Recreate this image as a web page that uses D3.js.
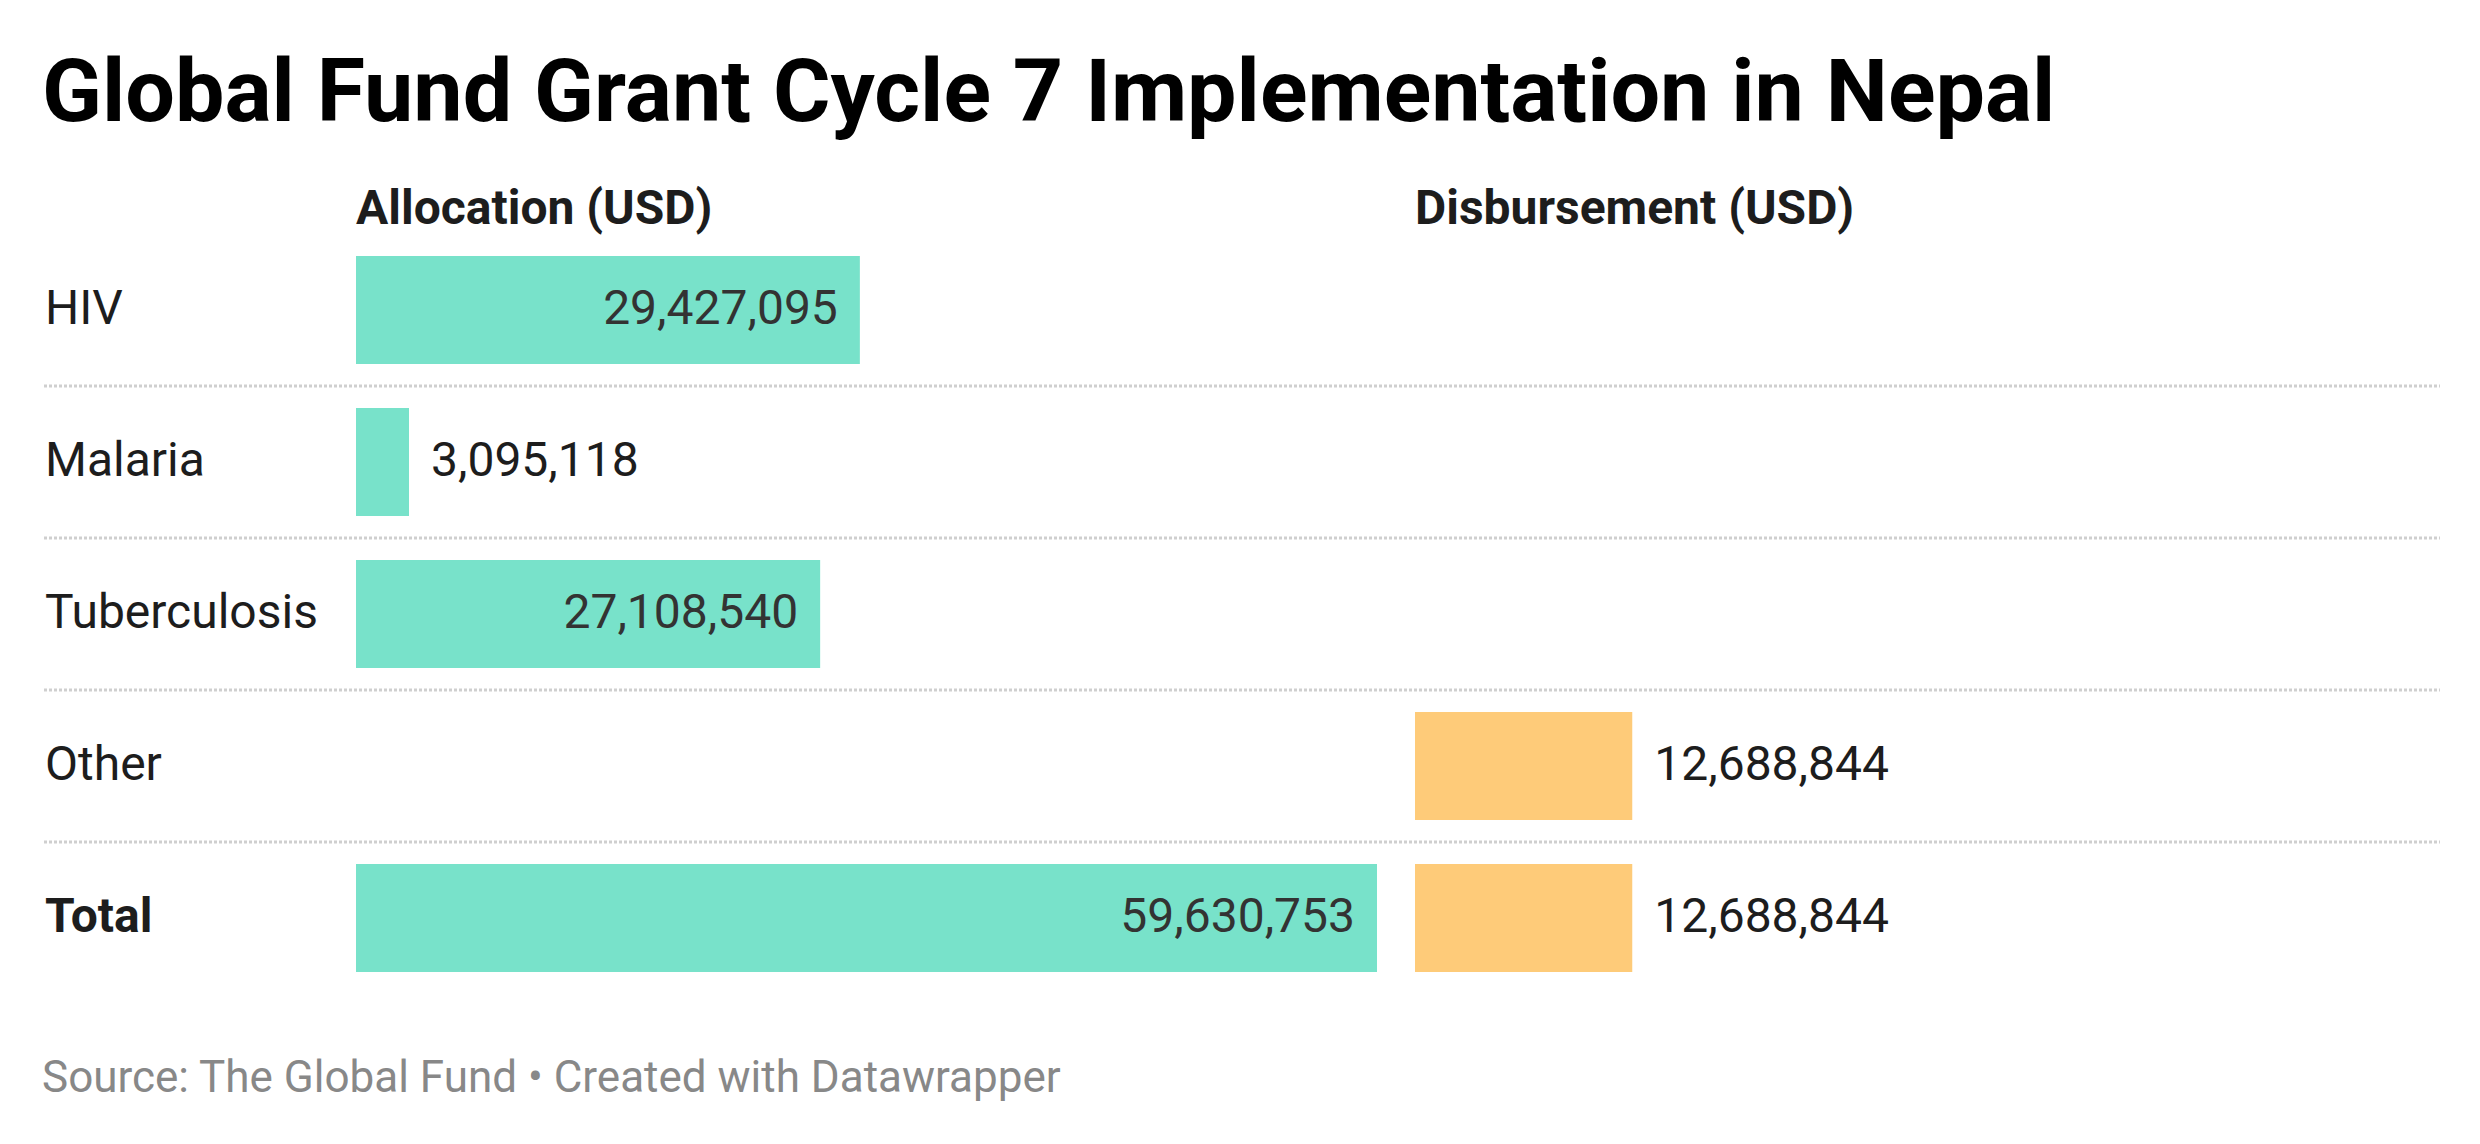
<!DOCTYPE html>
<html>
<head>
<meta charset="utf-8">
<script src="https://cdn.jsdelivr.net/npm/d3@7"></script>
<style>
  html, body { margin: 0; padding: 0; background: #fff; }
  svg { display: block; font-family: Roboto, "Noto Sans", sans-serif; }
</style>
</head>
<body>
<svg id="chart"></svg>
<script>
// data
const categories = ['HIV', 'Malaria', 'Tuberculosis', 'Other', 'Total'];
const allocation = [29427095, 3095118, 27108540, null, 59630753];
const disbursement = [null, null, null, 12688844, 12688844];
const columnTitles = ['Allocation (USD)', 'Disbursement (USD)'];
const titleText = 'Global Fund Grant Cycle 7 Implementation in Nepal';
const sourceText = 'Source: The Global Fund \u2022 Created with Datawrapper';

const width = 2480;
const height = 1144;
const tealColor = '#78e2ca';
const orangeColor = '#fecb79';

const svg = d3.select('#chart').attr('width', width).attr('height', height);

// title
svg.append('text')
  .attr('x', 42)
  .attr('y', 121)
  .text(titleText)
  .style('font-size', '88px')
  .style('font-weight', 700)
  .style('fill', '#000');

// layout
const labelX = 45;
const colStart = [356, 1415];
const colWidth = 1021;
const lineRight = 2440;

const x = d3.scaleLinear()
  .domain([0, d3.max(allocation.concat(disbursement))])
  .range([0, colWidth]);

const y = d3.scaleBand()
  .domain(categories)
  .range([234, 234 + 760])
  .paddingInner(44 / 152)
  .paddingOuter(22 / 152);

// column headers
svg.selectAll('text.colhead')
  .data(columnTitles)
  .enter()
  .append('text')
  .attr('class', 'colhead')
  .attr('x', (_, i) => colStart[i])
  .attr('y', 224)
  .text((d) => d)
  .style('font-size', '48px')
  .style('font-weight', 700)
  .style('fill', '#1d1d1d');

// dotted row separators
svg.selectAll('line.sep')
  .data(categories.slice(0, -1))
  .enter()
  .append('line')
  .attr('class', 'sep')
  .attr('x1', 44)
  .attr('x2', lineRight)
  .attr('y1', (d) => y(d) + y.bandwidth() + 22)
  .attr('y2', (d) => y(d) + y.bandwidth() + 22)
  .style('stroke', '#cfcfcf')
  .style('stroke-width', 3)
  .style('stroke-dasharray', '3,2');

// row labels
svg.selectAll('text.rowlabel')
  .data(categories)
  .enter()
  .append('text')
  .attr('class', 'rowlabel')
  .attr('x', labelX)
  .attr('y', (d) => y(d) + y.bandwidth() / 2)
  .attr('dy', '0.3em')
  .text((d) => d)
  .style('font-size', '48px')
  .style('font-weight', (d) => (d === 'Total' ? 700 : 400))
  .style('fill', '#1d1d1d');

// bars for both columns
const fmt = d3.format(',');
const pad = 22;
const series = [allocation, disbursement];
const colors = [tealColor, orangeColor];

series.forEach((vals, ci) => {
  const rows = categories
    .map((c, i) => ({ cat: c, value: vals[i] }))
    .filter((d) => d.value != null);

  const g = svg.append('g').attr('transform', `translate(${colStart[ci]},0)`);

  g.selectAll('rect')
    .data(rows)
    .enter()
    .append('rect')
    .attr('x', 0)
    .attr('y', (d) => y(d.cat))
    .attr('width', (d) => x(d.value))
    .attr('height', y.bandwidth())
    .style('fill', colors[ci]);

  g.selectAll('text')
    .data(rows)
    .enter()
    .append('text')
    .attr('y', (d) => y(d.cat) + y.bandwidth() / 2)
    .attr('dy', '0.3em')
    .text((d) => fmt(d.value))
    .style('font-size', '48px')
    .each(function (d) {
      // label goes inside the bar when it fits, else to its right
      const tw = this.getComputedTextLength();
      const bw = x(d.value);
      const sel = d3.select(this);
      if (tw + 2 * pad < bw) {
        sel.attr('x', bw - pad).attr('text-anchor', 'end').style('fill', '#333');
      } else {
        sel.attr('x', bw + pad).attr('text-anchor', 'start').style('fill', '#1d1d1d');
      }
    });
});

// footer
svg.append('text')
  .attr('x', 42)
  .attr('y', 1092)
  .text(sourceText)
  .style('font-size', '44px')
  .style('fill', '#888');
</script>
</body>
</html>
